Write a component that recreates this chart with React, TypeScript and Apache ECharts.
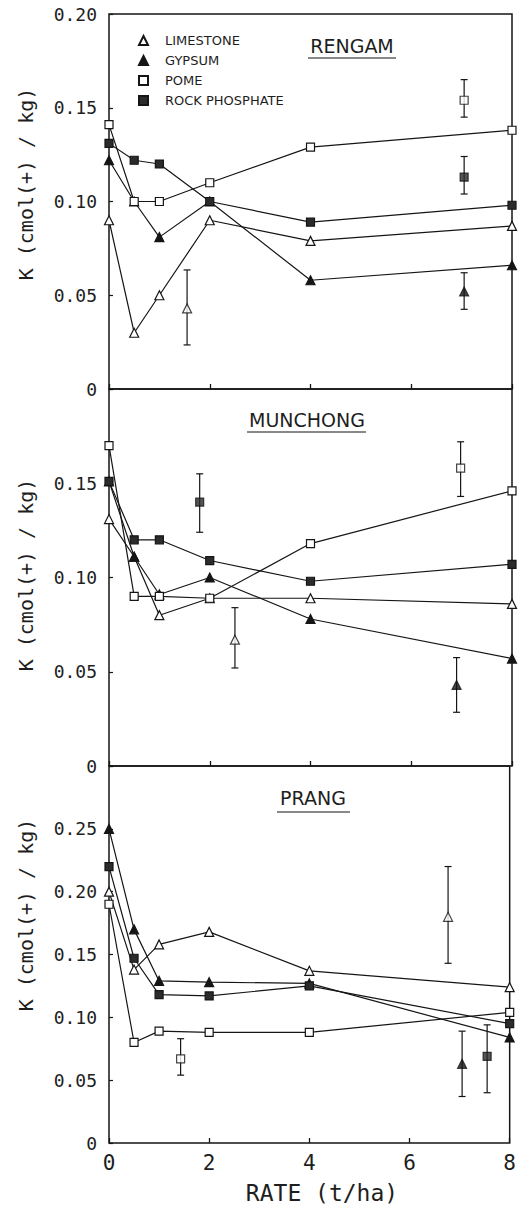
import React, { useEffect, useRef } from "react";
import * as echarts from "echarts";

// ---- data ----
const RATES = [0, 0.5, 1, 2, 4, 8];
const X_TICKS = [0, 2, 4, 6, 8];
const TREATMENTS = ["LIMESTONE", "GYPSUM", "POME", "ROCK PHOSPHATE"];
const SITES = ["RENGAM", "MUNCHONG", "PRANG"];
const Y_MAX = [0.2, 0.2, 0.3];
const Y_TITLE = "K (cmol(+) / kg)";
const X_TITLE = "RATE (t/ha)";

const RENGAM_LIMESTONE = [0.09, 0.03, 0.05, 0.09, 0.079, 0.087];
const RENGAM_GYPSUM = [0.122, 0.1, 0.081, 0.1, 0.058, 0.066];
const RENGAM_POME = [0.141, 0.1, 0.1, 0.11, 0.129, 0.138];
const RENGAM_ROCK = [0.131, 0.122, 0.12, 0.1, 0.089, 0.098];

const MUNCHONG_LIMESTONE = [0.131, 0.111, 0.08, 0.089, 0.089, 0.086];
const MUNCHONG_GYPSUM = [0.151, 0.111, 0.091, 0.1, 0.078, 0.057];
const MUNCHONG_POME = [0.17, 0.09, 0.09, 0.089, 0.118, 0.146];
const MUNCHONG_ROCK = [0.151, 0.12, 0.12, 0.109, 0.098, 0.107];

const PRANG_LIMESTONE = [0.2, 0.138, 0.158, 0.168, 0.137, 0.124];
const PRANG_GYPSUM = [0.25, 0.17, 0.129, 0.128, 0.127, 0.084];
const PRANG_POME = [0.19, 0.08, 0.089, 0.088, 0.088, 0.104];
const PRANG_ROCK = [0.22, 0.147, 0.118, 0.117, 0.125, 0.095];

// LSD bars: [rate, centre, low, high] in treatment order
const RENGAM_LSD = [
  [1.55, 0.043, 0.0235, 0.0635],
  [7.05, 0.052, 0.0425, 0.062],
  [7.05, 0.154, 0.145, 0.165],
  [7.05, 0.113, 0.104, 0.124],
];
const MUNCHONG_LSD = [
  [2.5, 0.067, 0.052, 0.084],
  [6.9, 0.043, 0.0285, 0.0575],
  [6.98, 0.158, 0.143, 0.172],
  [1.8, 0.14, 0.124, 0.155],
];
const PRANG_LSD = [
  [6.77, 0.18, 0.143, 0.22],
  [7.05, 0.063, 0.037, 0.089],
  [1.43, 0.067, 0.054, 0.083],
  [7.55, 0.069, 0.04, 0.094],
];

const SITE_SERIES = [
  [RENGAM_LIMESTONE, RENGAM_GYPSUM, RENGAM_POME, RENGAM_ROCK],
  [MUNCHONG_LIMESTONE, MUNCHONG_GYPSUM, MUNCHONG_POME, MUNCHONG_ROCK],
  [PRANG_LIMESTONE, PRANG_GYPSUM, PRANG_POME, PRANG_ROCK],
];
const SITE_LSD = [RENGAM_LSD, MUNCHONG_LSD, PRANG_LSD];

// ---- styles ----
const FONT = "DejaVu Sans";
const MONO = "DejaVu Sans Mono";
const INK = "#151515";
const TXT = "#1e1e1e";
const MARK = [
  { symbol: "triangle", size: 9, fill: "#ffffff" },
  { symbol: "triangle", size: 9, fill: INK },
  { symbol: "rect", size: 8, fill: "#ffffff" },
  { symbol: "rect", size: 8, fill: "#2b2b2b" },
];
const GRID_TOP = [14, 389, 766];
const GRID_H = [375, 377, 377];
const YNAME_POS = [
  { x: 26, y: 184 },
  { x: 26, y: 575 },
  { x: 26, y: 915 },
];
const TITLE_POS = [
  { x: 352, y: 46, x1: 308, x2: 396, uy: 58 },
  { x: 307, y: 420, x1: 247, x2: 366, uy: 432 },
  { x: 313, y: 798, x1: 277, x2: 350, uy: 812 },
];

function buildOption() {
  const grid = GRID_TOP.map((top, i) => ({
    left: 109,
    right: 7,
    top,
    height: GRID_H[i],
    show: true,
    borderColor: INK,
    borderWidth: 1.5,
    backgroundColor: "transparent",
  }));

  const xAxis = GRID_TOP.map((_, i) => ({
    type: "value",
    gridIndex: i,
    min: X_TICKS[0],
    max: X_TICKS[X_TICKS.length - 1],
    interval: X_TICKS[1] - X_TICKS[0],
    axisLine: { show: false },
    axisTick: { show: true, inside: true, length: 5, lineStyle: { color: INK, width: 1.3 } },
    splitLine: { show: false },
    axisLabel: {
      show: i === 2,
      fontSize: 21,
      fontFamily: MONO,
      color: TXT,
      margin: 9,
    },
  }));

  const yAxis = GRID_TOP.map((_, i) => ({
    type: "value",
    gridIndex: i,
    min: 0,
    max: Y_MAX[i],
    interval: 0.05,
    axisLine: { show: false },
    axisTick: { show: true, inside: true, length: 4, lineStyle: { color: INK, width: 1.2 } },
    splitLine: { show: false },
    axisLabel: {
      fontSize: 18,
      fontFamily: MONO,
      color: TXT,
      margin: 12,
      formatter: (v: number) => {
        if (i > 0 && Math.abs(v - Y_MAX[i]) < 1e-9) return "";
        return v === 0 ? "0" : v.toFixed(2);
      },
    },
  }));

  const series: any[] = [];
  SITE_SERIES.forEach((siteData, p) => {
    siteData.forEach((vals, t) => {
      const m = MARK[t];
      series.push({
        type: "line",
        name: TREATMENTS[t],
        xAxisIndex: p,
        yAxisIndex: p,
        data: RATES.map((r, k) => [r, vals[k]]),
        symbol: m.symbol,
        symbolSize: m.size,
        showAllSymbol: true,
        lineStyle: { color: INK, width: 1.2 },
        itemStyle: { color: m.fill, borderColor: INK, borderWidth: 1.2 },
        z: 3,
        silent: true,
      });
    });
    const lsd = SITE_LSD[p];
    series.push({
      type: "custom",
      name: SITES[p] + " LSD",
      xAxisIndex: p,
      yAxisIndex: p,
      data: lsd,
      encode: { x: 0, y: [2, 3] },
      silent: true,
      z: 4,
      renderItem: (params: any, api: any) => {
        const x = api.value(0);
        const lo = api.coord([x, api.value(2)]);
        const hi = api.coord([x, api.value(3)]);
        const w = 3.5;
        const st = { stroke: INK, lineWidth: 1.2 };
        return {
          type: "group",
          children: [
            { type: "line", shape: { x1: lo[0], y1: lo[1], x2: hi[0], y2: hi[1] }, style: st },
            { type: "line", shape: { x1: lo[0] - w, y1: lo[1], x2: lo[0] + w, y2: lo[1] }, style: st },
            { type: "line", shape: { x1: hi[0] - w, y1: hi[1], x2: hi[0] + w, y2: hi[1] }, style: st },
          ],
        };
      },
    });
    lsd.forEach((row, t) => {
      const m = MARK[t];
      series.push({
        type: "scatter",
        name: SITES[p] + " LSD " + TREATMENTS[t],
        xAxisIndex: p,
        yAxisIndex: p,
        data: [[row[0], row[1]]],
        symbol: m.symbol,
        symbolSize: m.size,
        itemStyle: { color: m.fill, borderColor: INK, borderWidth: 1.2 },
        z: 5,
        silent: true,
      });
    });
  });

  const graphic: any[] = [];
  SITES.forEach((s, i) => {
    const tp = TITLE_POS[i];
    graphic.push({
      type: "text",
      x: tp.x,
      y: tp.y,
      style: {
        text: s,
        font: `19px "${FONT}"`,
        fill: TXT,
        align: "center",
        verticalAlign: "middle",
      },
    });
    graphic.push({
      type: "line",
      shape: { x1: tp.x1, y1: tp.uy, x2: tp.x2, y2: tp.uy },
      style: { stroke: INK, lineWidth: 1.2 },
    });
    const yp = YNAME_POS[i];
    graphic.push({
      type: "text",
      x: yp.x,
      y: yp.y,
      rotation: Math.PI / 2,
      style: {
        text: Y_TITLE,
        font: `20px "${MONO}"`,
        fill: TXT,
        align: "center",
        verticalAlign: "middle",
      },
    });
  });
  graphic.push({
    type: "text",
    x: 322,
    y: 1193,
    style: {
      text: X_TITLE,
      font: `23px "${MONO}"`,
      fill: TXT,
      align: "center",
      verticalAlign: "middle",
    },
  });

  return {
    animation: false,
    backgroundColor: "#ffffff",
    grid,
    xAxis,
    yAxis,
    legend: {
      orient: "vertical",
      left: 133,
      top: 29,
      itemWidth: 9,
      itemHeight: 9,
      itemGap: 7,
      selectedMode: false,
      data: TREATMENTS.map((n, i) => ({ name: n, icon: MARK[i].symbol })),
      textStyle: { fontSize: 13, fontFamily: FONT, color: TXT, padding: [0, 0, 0, 12] },
    },
    graphic,
    series,
  };
}

export default function App() {
  const ref = useRef<HTMLDivElement>(null);
  useEffect(() => {
    if (!ref.current) return;
    const chart = echarts.init(ref.current, null, { renderer: "svg" });
    chart.setOption(buildOption() as any);
    return () => chart.dispose();
  }, []);
  return (
    <div
      ref={ref}
      style={{ position: "absolute", left: 0, top: 0, width: 519, height: 1205, background: "#fff" }}
    />
  );
}
